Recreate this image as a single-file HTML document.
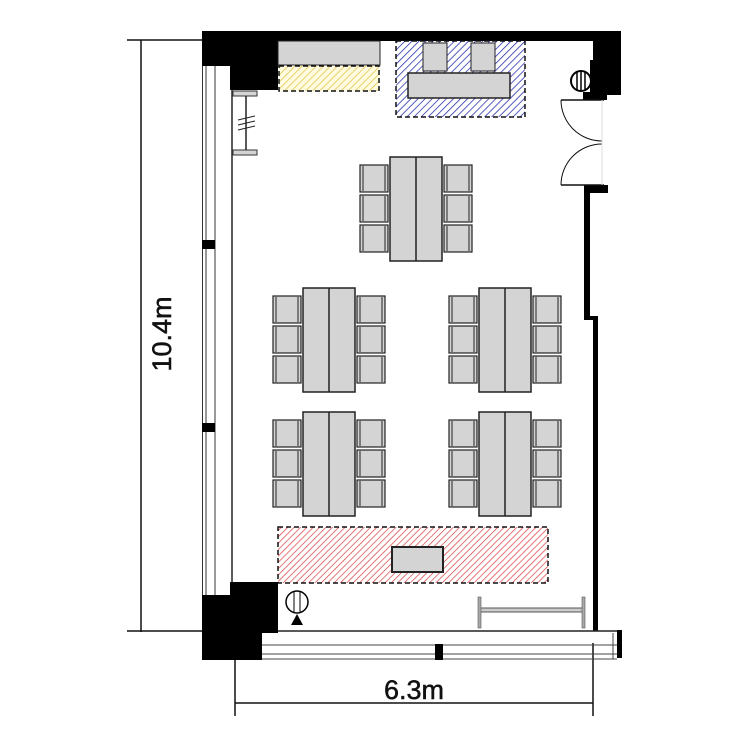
<!DOCTYPE html><html><head><style>body{margin:0;background:#fff}svg{display:block}</style></head><body>
<svg width="750" height="750" viewBox="0 0 750 750" xmlns="http://www.w3.org/2000/svg">
<defs>
<pattern id="hy" width="5" height="5" patternUnits="userSpaceOnUse" patternTransform="rotate(45)"><rect width="5" height="5" fill="#fffbe0"/><line x1="0" y1="0" x2="0" y2="5" stroke="#e0c040" stroke-width="1.4"/></pattern>
<pattern id="hb" width="5" height="5" patternUnits="userSpaceOnUse" patternTransform="rotate(45)"><rect width="5" height="5" fill="#fff"/><line x1="0" y1="0" x2="0" y2="5" stroke="#2028a8" stroke-width="1.5"/></pattern>
<pattern id="hr" width="4.5" height="4.5" patternUnits="userSpaceOnUse" patternTransform="rotate(45)"><rect width="5" height="5" fill="#fff"/><line x1="0" y1="0" x2="0" y2="4.5" stroke="#d83030" stroke-width="1.3"/></pattern>
<g id="chL"><rect x="2" y="0" width="28" height="27" fill="#d4d4d4" stroke="#222" stroke-width="1.2"/><line x1="5" y1="1" x2="5" y2="26" stroke="#222"/><line x1="27" y1="1" x2="27" y2="26" stroke="#222"/></g>
<g id="grp"><rect x="32" y="0" width="52" height="104" fill="#d4d4d4" stroke="#222" stroke-width="1.5"/><line x1="58" y1="0" x2="58" y2="104" stroke="#222" stroke-width="1.5"/>
<use href="#chL" x="0" y="8"/><use href="#chL" x="0" y="38"/><use href="#chL" x="0" y="68"/>
<use href="#chL" x="84" y="8"/><use href="#chL" x="84" y="38"/><use href="#chL" x="84" y="68"/></g>
</defs>
<g stroke="#111" stroke-width="1.5" fill="none">
<line x1="127" y1="40" x2="202" y2="40"/><line x1="141" y1="40" x2="141" y2="632"/><line x1="127" y1="631" x2="202" y2="631"/>
<line x1="235" y1="660" x2="235" y2="716"/><line x1="593" y1="643" x2="593" y2="716"/><line x1="235" y1="703" x2="593" y2="703"/>
</g>
<text x="0" y="0" transform="translate(171,334) rotate(-90)" text-anchor="middle" font-family="Liberation Sans, sans-serif" font-size="27" fill="#111" stroke="#111" stroke-width="0.5">10.4m</text>
<text x="414" y="699" text-anchor="middle" font-family="Liberation Sans, sans-serif" font-size="27" fill="#111" stroke="#111" stroke-width="0.5">6.3m</text>
<g stroke="#333" fill="none"><line x1="202.5" y1="66" x2="202.5" y2="596" stroke-width="1"/><line x1="206" y1="66" x2="206" y2="596" stroke-width="1"/><line x1="215" y1="66" x2="215" y2="596" stroke-width="1"/><line x1="232" y1="90" x2="232" y2="596" stroke-width="1.6"/></g>
<rect x="202" y="240" width="13" height="9" fill="#000"/><rect x="202" y="423" width="13" height="9" fill="#000"/>
<polygon points="202,31 621,31 621,95 607,95 607,100 583,100 583,92 593,92 593,41 278,41 278,90 230,90 230,66 202,66" fill="#000"/>
<polygon points="584,185 608,185 608,193 590,193 590,316 598,316 598,631 593,631 593,320 584,320" fill="#000"/>
<polygon points="230,582 278,582 278,633 262,633 262,660 202,660 202,595 230,595" fill="#000"/>
<rect x="617" y="630" width="5" height="28" fill="#000"/>
<line x1="278" y1="631" x2="617" y2="631" stroke="#222" stroke-width="1.5"/>
<g stroke="#444" fill="none"><line x1="262" y1="645" x2="617" y2="645"/><line x1="262" y1="654" x2="617" y2="654"/><line x1="262" y1="659" x2="617" y2="659"/><line x1="613" y1="633" x2="613" y2="659"/></g>
<rect x="435" y="644" width="8" height="16" fill="#000"/>
<rect x="233" y="91" width="24" height="5" fill="#d4d4d4" stroke="#333"/><rect x="233" y="150" width="24" height="5" fill="#d4d4d4" stroke="#333"/>
<line x1="246" y1="96" x2="246" y2="150" stroke="#222" stroke-width="1.5"/>
<g stroke="#222"><line x1="238" y1="120" x2="255" y2="116"/><line x1="238" y1="125" x2="255" y2="121"/><line x1="238" y1="130" x2="255" y2="126"/></g>
<rect x="278" y="41" width="102" height="24" fill="#d4d4d4" stroke="#222"/>
<rect x="279" y="66" width="100" height="25" fill="url(#hy)" stroke="#111" stroke-width="1.5" stroke-dasharray="5,3"/>
<rect x="396" y="41" width="129" height="76" fill="url(#hb)" stroke="#111" stroke-width="1.5" stroke-dasharray="5,3"/>
<rect x="423" y="43" width="24" height="28" fill="#d4d4d4" stroke="#222"/><rect x="471" y="43" width="24" height="28" fill="#d4d4d4" stroke="#222"/>
<rect x="408" y="73" width="102" height="25" fill="#d4d4d4" stroke="#222" stroke-width="1.5"/>
<circle cx="581" cy="81" r="10" fill="#fff" stroke="#000" stroke-width="2"/>
<g stroke="#000" stroke-width="1.5"><line x1="577" y1="72" x2="577" y2="90"/><line x1="581" y1="71" x2="581" y2="91"/><line x1="585" y1="72" x2="585" y2="90"/></g>
<rect x="590" y="60" width="10" height="40" fill="#000"/>
<g stroke="#111" fill="none"><line x1="561" y1="100" x2="604" y2="100" stroke-width="1.5"/><line x1="561" y1="185" x2="604" y2="185" stroke-width="1.5"/>
<path d="M561,100 A41,41 0 0 0 602,141"/><path d="M602,144 A41,41 0 0 0 561,185"/><line x1="602" y1="100" x2="602" y2="185" stroke="#ddd"/></g>
<use href="#grp" x="358" y="157"/>
<use href="#grp" x="271" y="288"/><use href="#grp" x="447" y="288"/>
<use href="#grp" x="271" y="412"/><use href="#grp" x="447" y="412"/>
<rect x="278" y="527" width="270" height="56" fill="url(#hr)" stroke="#111" stroke-width="1.5" stroke-dasharray="5,3"/>
<rect x="392" y="547" width="51" height="25" fill="#d4d4d4" stroke="#222" stroke-width="2"/>
<circle cx="297" cy="602" r="11" fill="#fff" stroke="#000" stroke-width="1.5"/>
<line x1="294" y1="591" x2="294" y2="613" stroke="#000"/><line x1="300" y1="591" x2="300" y2="613" stroke="#000"/>
<polygon points="297,614 303,625 291,625" fill="#000"/>
<rect x="480" y="608" width="103" height="4" fill="#ccc" stroke="#555"/>
<rect x="478" y="597" width="3" height="31" fill="#aaa" stroke="#555" stroke-width="0.6"/><rect x="582" y="597" width="3" height="31" fill="#aaa" stroke="#555" stroke-width="0.6"/>
</svg>
</body></html>
